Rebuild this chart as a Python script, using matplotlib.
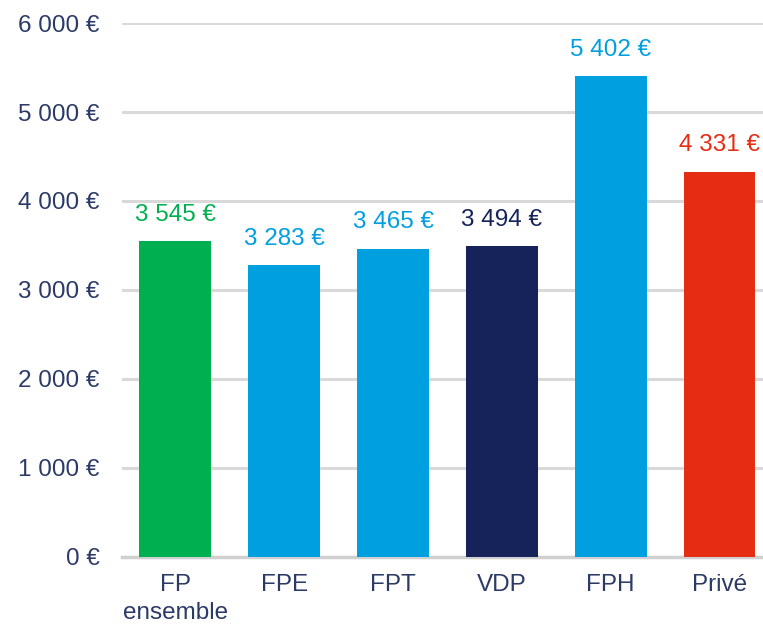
import matplotlib.pyplot as plt

# data
categories = ["FP\nensemble", "FPE", "FPT", "VDP", "FPH", "Privé"]
values = [3545, 3283, 3465, 3494, 5402, 4331]
colors = ["#00b050", "#009fe0", "#009fe0", "#15235a", "#009fe0", "#e42d13"]
yticks = [0, 1000, 2000, 3000, 4000, 5000, 6000]


def euro(v):
    s = f"{v:,}".replace(",", " ")
    return s + " €"


plt.rcParams['font.family'] = ['Liberation Sans', 'DejaVu Sans']

fig = plt.figure(figsize=(7.63, 6.27), dpi=100)
ax = fig.add_axes([0.160, 0.1117, 0.84, 0.8516])

x = list(range(len(categories)))
ax.bar(x, values, width=0.66, color=colors, zorder=3)

for xi, v, c in zip(x, values, colors):
    ax.annotate(euro(v), (xi, v), xytext=(0, 11), textcoords="offset points",
                ha="center", va="bottom", color=c, fontsize=17.5)

ax.set_ylim(0, 6000)
ax.set_xlim(-0.49, 5.40)
ax.set_yticks(yticks)
ax.set_yticklabels([euro(t) for t in yticks])
ax.set_xticks(x)
ax.set_xticklabels(categories, linespacing=1.4)
ax.yaxis.grid(True, color="#d9d9d9", linewidth=2.2, zorder=0)
ax.set_axisbelow(True)

for s in ["top", "right", "left"]:
    ax.spines[s].set_visible(False)
ax.spines["bottom"].set_color("#d0d0d0")
ax.spines["bottom"].set_linewidth(2.5)

ax.tick_params(axis="both", length=0, labelsize=17.5, colors="#2b3a67")
ax.tick_params(axis="y", pad=16)
ax.tick_params(axis="x", pad=12)

fig.savefig("out.png", dpi=100)
